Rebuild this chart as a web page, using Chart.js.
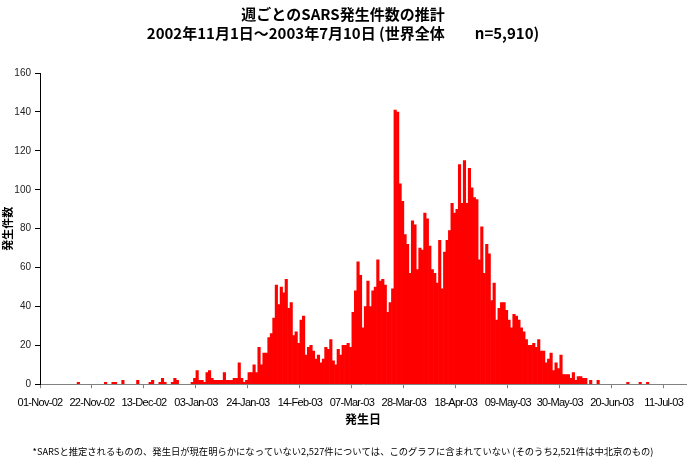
<!DOCTYPE html>
<html>
<head>
<meta charset="utf-8">
<script src="https://cdn.jsdelivr.net/npm/chart.js@4.4.1/dist/chart.umd.min.js"></script>
<style>
html,body{margin:0;padding:0;background:#fff;}
#wrap{width:688px;height:460px;}
</style>
</head>
<body>
<div id="wrap"><canvas id="c" width="688" height="460"></canvas></div>
<script>
// Daily SARS onset counts, day 0 = 01-Nov-2002
const dailyCases = [
  0,0,0,0,0,0,0,0,0,0,
  0,0,0,0,0,1,0,0,0,0,
  0,0,0,0,0,0,1,0,0,1,
  1,0,0,2,0,0,0,0,0,2,
  0,0,0,0,1,2,0,0,1,3,
  1,0,0,1,3,2,0,0,0,0,
  0,1,3,7,2,2,1,6,7,3,
  2,2,2,2,6,2,2,2,3,3,
  11,3,1,2,6,6,10,6,19,10,
  16,16,24,26,34,51,41,50,47,54,
  39,42,25,27,21,33,35,15,19,20,
  17,13,15,11,13,19,18,23,12,10,
  18,15,20,20,21,19,37,48,63,56,
  29,40,53,40,48,50,64,53,54,51,
  37,42,49,141,140,103,94,77,72,57,
  84,82,59,70,69,88,85,71,59,57,
  52,74,49,68,74,79,93,88,90,113,
  93,115,93,111,101,96,95,64,81,57,
  72,67,43,52,33,39,42,42,38,33,
  29,36,35,33,29,27,23,20,20,21,
  19,23,17,17,11,13,16,7,11,8,
  15,5,5,5,3,6,2,4,4,3,
  3,0,2,0,0,2,0,0,0,0,
  0,0,0,0,0,0,0,1,0,0,
  0,0,1,0,0,1,0,0,0,0,
  0,0,0,0,0,0,0,0,0,0,
  0
];
const tickDays = [0,21,42,63,84,105,126,147,168,189,210,231,252];
const tickLabels = ['01-Nov-02','22-Nov-02','13-Dec-02','03-Jan-03','24-Jan-03','14-Feb-03','07-Mar-03','28-Mar-03','18-Apr-03','09-May-03','30-May-03','20-Jun-03','11-Jul-03'];
const yTicks = [0,20,40,60,80,100,120,140,160];
const titleLines = ['週ごとのSARS発生件数の推計','2002年11月1日～2003年7月10日 (世界全体　　n=5,910)'];
const xTitle = '発生日';
const yTitle = '発生件数';
const footnote = '*SARSと推定されるものの、発生日が現在明らかになっていない2,527件については、このグラフに含まれていない (そのうち2,521件は中北京のもの)';

const points = [];
dailyCases.forEach((v, i) => { if (v > 0) points.push({x: i + 0.5, y: v}); });

const jp = "'Noto Sans CJK JP','Noto Sans',sans-serif";

const narrowLabels = {
  id: 'narrowLabels',
  beforeDraw(chart) {
    const s = chart.scales.x;
    if (s && !s._narrowWrapped) {
      const orig = s.drawLabels;
      s.drawLabels = function (area) {
        const c = this.ctx;
        c.save();
        c.letterSpacing = '-0.7px';
        orig.call(this, area);
        c.restore();
      };
      s._narrowWrapped = true;
    }
  }
};

new Chart(document.getElementById('c'), {
  type: 'bar',
  data: {
    datasets: [{
      data: points,
      backgroundColor: '#FF0000',
      borderWidth: 0,
      barPercentage: 1,
      categoryPercentage: 1
    }]
  },
  plugins: [narrowLabels],
  options: {
    responsive: false,
    animation: false,
    layout: {padding: {left: 0, right: 2, top: 0, bottom: 0}},
    plugins: {
      legend: {display: false},
      tooltip: {enabled: false},
      title: {
        display: true,
        text: titleLines,
        color: '#000',
        font: {family: jp, size: 15, weight: 'bold', lineHeight: 1.27},
        padding: {top: 5, bottom: 30}
      },
      subtitle: {
        display: true,
        position: 'bottom',
        text: footnote,
        color: '#000',
        font: {family: jp, size: 9.3, weight: 'normal', lineHeight: 1.2},
        padding: {top: 15, bottom: 3}
      }
    },
    scales: {
      x: {
        type: 'linear',
        offset: false,
        min: 0,
        max: 261,
        afterBuildTicks: (axis) => { axis.ticks = tickDays.map(v => ({value: v})); },
        ticks: {
          autoSkip: false,
          maxRotation: 0,
          minRotation: 0,
          padding: 8,
          color: '#000',
          font: {family: "'Liberation Sans Narrow','Liberation Sans',sans-serif", size: 11},
          callback: (v) => tickLabels[tickDays.indexOf(v)]
        },
        grid: {display: true, offset: false, drawOnChartArea: false, drawTicks: true, tickLength: 4, color: '#808080'},
        border: {display: true, color: '#808080', width: 1},
        title: {display: true, text: xTitle, color: '#000', font: {family: jp, size: 12, weight: 'bold'}, padding: {top: 0, bottom: 4}},
        afterFit: (s) => { s.height -= 5; s.paddingLeft = 0; s.paddingRight = 0; }
      },
      y: {
        min: 0,
        max: 160,
        afterBuildTicks: (axis) => { axis.ticks = yTicks.map(v => ({value: v})); },
        ticks: {
          padding: 4,
          color: '#222',
          font: {family: "'Liberation Sans',sans-serif", size: 10}
        },
        grid: {display: true, drawOnChartArea: false, drawTicks: true, tickLength: 5, color: '#000'},
        border: {display: true, color: '#000', width: 1},
        title: {display: true, text: yTitle, color: '#000', font: {family: jp, size: 11, weight: 'bold'}, padding: {top: 1, bottom: 0}},
        afterFit: (s) => { s.width = 40; }
      }
    }
  }
});
</script>
</body>
</html>
